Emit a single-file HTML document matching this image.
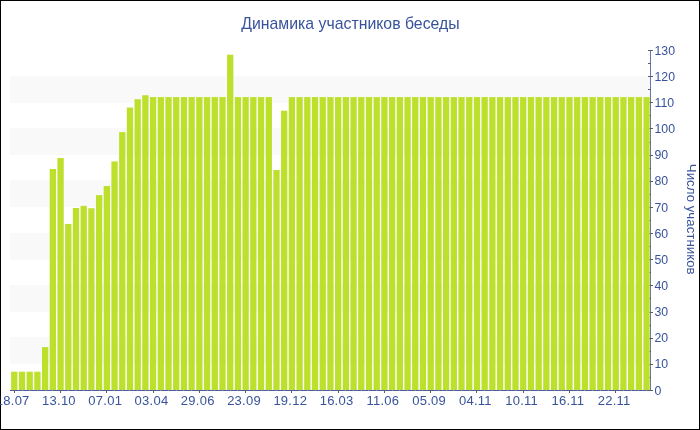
<!DOCTYPE html><html><head><meta charset="utf-8"><style>html,body{margin:0;padding:0;background:#fff;width:700px;height:430px;overflow:hidden}svg{display:block;will-change:transform}text{font-family:"Liberation Sans",sans-serif}</style></head><body>
<svg width="700" height="430" viewBox="0 0 700 430">
<rect x="0.5" y="0.5" width="699" height="429" fill="#fff" stroke="#000" stroke-width="1"/>
<g fill="#f9f9f9"><rect x="10" y="337" width="640" height="27"/><rect x="10" y="285" width="640" height="27"/><rect x="10" y="233" width="640" height="27"/><rect x="10" y="180" width="640" height="27"/><rect x="10" y="128" width="640" height="27"/><rect x="10" y="76" width="640" height="27"/></g>
<line x1="10" y1="390.5" x2="651" y2="390.5" stroke="#4a5ea4" stroke-width="1"/>
<line x1="650.5" y1="50" x2="650.5" y2="391" stroke="#6676b2" stroke-width="1"/>
<g stroke="#5e5e5e" stroke-width="1"><line x1="648" y1="390.5" x2="653" y2="390.5"/><line x1="648" y1="377.5" x2="651" y2="377.5"/><line x1="648" y1="364.5" x2="653" y2="364.5"/><line x1="648" y1="351.5" x2="651" y2="351.5"/><line x1="648" y1="338.5" x2="653" y2="338.5"/><line x1="648" y1="325.5" x2="651" y2="325.5"/><line x1="648" y1="312.5" x2="653" y2="312.5"/><line x1="648" y1="298.5" x2="651" y2="298.5"/><line x1="648" y1="285.5" x2="653" y2="285.5"/><line x1="648" y1="272.5" x2="651" y2="272.5"/><line x1="648" y1="259.5" x2="653" y2="259.5"/><line x1="648" y1="246.5" x2="651" y2="246.5"/><line x1="648" y1="233.5" x2="653" y2="233.5"/><line x1="648" y1="220.5" x2="651" y2="220.5"/><line x1="648" y1="207.5" x2="653" y2="207.5"/><line x1="648" y1="194.5" x2="651" y2="194.5"/><line x1="648" y1="181.5" x2="653" y2="181.5"/><line x1="648" y1="168.5" x2="651" y2="168.5"/><line x1="648" y1="155.5" x2="653" y2="155.5"/><line x1="648" y1="142.5" x2="651" y2="142.5"/><line x1="648" y1="128.5" x2="653" y2="128.5"/><line x1="648" y1="115.5" x2="651" y2="115.5"/><line x1="648" y1="102.5" x2="653" y2="102.5"/><line x1="648" y1="89.5" x2="651" y2="89.5"/><line x1="648" y1="76.5" x2="653" y2="76.5"/><line x1="648" y1="63.5" x2="651" y2="63.5"/><line x1="648" y1="50.5" x2="653" y2="50.5"/><line x1="14.5" y1="390" x2="14.5" y2="393"/><line x1="60.5" y1="390" x2="60.5" y2="393"/><line x1="106.5" y1="390" x2="106.5" y2="393"/><line x1="153.5" y1="390" x2="153.5" y2="393"/><line x1="199.5" y1="390" x2="199.5" y2="393"/><line x1="245.5" y1="390" x2="245.5" y2="393"/><line x1="291.5" y1="390" x2="291.5" y2="393"/><line x1="338.5" y1="390" x2="338.5" y2="393"/><line x1="384.5" y1="390" x2="384.5" y2="393"/><line x1="430.5" y1="390" x2="430.5" y2="393"/><line x1="476.5" y1="390" x2="476.5" y2="393"/><line x1="523.5" y1="390" x2="523.5" y2="393"/><line x1="569.5" y1="390" x2="569.5" y2="393"/><line x1="615.5" y1="390" x2="615.5" y2="393"/></g>
<g fill="#8790bd"><rect x="22" y="390" width="1" height="1"/><rect x="29" y="390" width="1" height="1"/><rect x="37" y="390" width="1" height="1"/><rect x="45" y="390" width="1" height="1"/><rect x="52" y="390" width="1" height="1"/><rect x="68" y="390" width="1" height="1"/><rect x="75" y="390" width="1" height="1"/><rect x="83" y="390" width="1" height="1"/><rect x="91" y="390" width="1" height="1"/><rect x="99" y="390" width="1" height="1"/><rect x="114" y="390" width="1" height="1"/><rect x="122" y="390" width="1" height="1"/><rect x="129" y="390" width="1" height="1"/><rect x="137" y="390" width="1" height="1"/><rect x="145" y="390" width="1" height="1"/><rect x="160" y="390" width="1" height="1"/><rect x="168" y="390" width="1" height="1"/><rect x="176" y="390" width="1" height="1"/><rect x="183" y="390" width="1" height="1"/><rect x="191" y="390" width="1" height="1"/><rect x="207" y="390" width="1" height="1"/><rect x="214" y="390" width="1" height="1"/><rect x="222" y="390" width="1" height="1"/><rect x="230" y="390" width="1" height="1"/><rect x="237" y="390" width="1" height="1"/><rect x="253" y="390" width="1" height="1"/><rect x="261" y="390" width="1" height="1"/><rect x="268" y="390" width="1" height="1"/><rect x="276" y="390" width="1" height="1"/><rect x="284" y="390" width="1" height="1"/><rect x="299" y="390" width="1" height="1"/><rect x="307" y="390" width="1" height="1"/><rect x="315" y="390" width="1" height="1"/><rect x="322" y="390" width="1" height="1"/><rect x="330" y="390" width="1" height="1"/><rect x="345" y="390" width="1" height="1"/><rect x="353" y="390" width="1" height="1"/><rect x="361" y="390" width="1" height="1"/><rect x="368" y="390" width="1" height="1"/><rect x="376" y="390" width="1" height="1"/><rect x="392" y="390" width="1" height="1"/><rect x="399" y="390" width="1" height="1"/><rect x="407" y="390" width="1" height="1"/><rect x="415" y="390" width="1" height="1"/><rect x="422" y="390" width="1" height="1"/><rect x="438" y="390" width="1" height="1"/><rect x="446" y="390" width="1" height="1"/><rect x="453" y="390" width="1" height="1"/><rect x="461" y="390" width="1" height="1"/><rect x="469" y="390" width="1" height="1"/><rect x="484" y="390" width="1" height="1"/><rect x="492" y="390" width="1" height="1"/><rect x="500" y="390" width="1" height="1"/><rect x="507" y="390" width="1" height="1"/><rect x="515" y="390" width="1" height="1"/><rect x="530" y="390" width="1" height="1"/><rect x="538" y="390" width="1" height="1"/><rect x="546" y="390" width="1" height="1"/><rect x="554" y="390" width="1" height="1"/><rect x="561" y="390" width="1" height="1"/><rect x="577" y="390" width="1" height="1"/><rect x="584" y="390" width="1" height="1"/><rect x="592" y="390" width="1" height="1"/><rect x="600" y="390" width="1" height="1"/><rect x="608" y="390" width="1" height="1"/><rect x="623" y="390" width="1" height="1"/><rect x="631" y="390" width="1" height="1"/><rect x="638" y="390" width="1" height="1"/><rect x="646" y="390" width="1" height="1"/></g>
<g fill="#bce02c"><rect x="11.15" y="371.69" width="6.3" height="18.31"/><rect x="18.86" y="371.69" width="6.3" height="18.31"/><rect x="26.57" y="371.69" width="6.3" height="18.31"/><rect x="34.28" y="371.69" width="6.3" height="18.31"/><rect x="41.99" y="347.11" width="6.3" height="42.89"/><rect x="49.70" y="169.00" width="6.3" height="221.00"/><rect x="57.42" y="158.02" width="6.3" height="231.98"/><rect x="65.13" y="223.92" width="6.3" height="166.08"/><rect x="72.84" y="207.97" width="6.3" height="182.03"/><rect x="80.55" y="205.88" width="6.3" height="184.12"/><rect x="88.26" y="208.23" width="6.3" height="181.77"/><rect x="95.97" y="195.15" width="6.3" height="194.85"/><rect x="103.68" y="186.00" width="6.3" height="204.00"/><rect x="111.39" y="161.42" width="6.3" height="228.58"/><rect x="119.10" y="132.12" width="6.3" height="257.88"/><rect x="126.81" y="107.54" width="6.3" height="282.46"/><rect x="134.52" y="99.17" width="6.3" height="290.83"/><rect x="142.23" y="95.25" width="6.3" height="294.75"/><rect x="149.95" y="97.08" width="6.3" height="292.92"/><rect x="157.66" y="97.08" width="6.3" height="292.92"/><rect x="165.37" y="97.08" width="6.3" height="292.92"/><rect x="173.08" y="97.08" width="6.3" height="292.92"/><rect x="180.79" y="97.08" width="6.3" height="292.92"/><rect x="188.50" y="97.08" width="6.3" height="292.92"/><rect x="196.21" y="97.08" width="6.3" height="292.92"/><rect x="203.92" y="97.08" width="6.3" height="292.92"/><rect x="211.63" y="97.08" width="6.3" height="292.92"/><rect x="219.34" y="97.08" width="6.3" height="292.92"/><rect x="227.05" y="54.71" width="6.3" height="335.29"/><rect x="234.76" y="97.08" width="6.3" height="292.92"/><rect x="242.48" y="97.08" width="6.3" height="292.92"/><rect x="250.19" y="97.08" width="6.3" height="292.92"/><rect x="257.90" y="97.08" width="6.3" height="292.92"/><rect x="265.61" y="97.08" width="6.3" height="292.92"/><rect x="273.32" y="170.05" width="6.3" height="219.95"/><rect x="281.03" y="110.68" width="6.3" height="279.32"/><rect x="288.74" y="97.08" width="6.3" height="292.92"/><rect x="296.45" y="97.08" width="6.3" height="292.92"/><rect x="304.16" y="97.08" width="6.3" height="292.92"/><rect x="311.87" y="97.08" width="6.3" height="292.92"/><rect x="319.58" y="97.08" width="6.3" height="292.92"/><rect x="327.29" y="97.08" width="6.3" height="292.92"/><rect x="335.01" y="97.08" width="6.3" height="292.92"/><rect x="342.72" y="97.08" width="6.3" height="292.92"/><rect x="350.43" y="97.08" width="6.3" height="292.92"/><rect x="358.14" y="97.08" width="6.3" height="292.92"/><rect x="365.85" y="97.08" width="6.3" height="292.92"/><rect x="373.56" y="97.08" width="6.3" height="292.92"/><rect x="381.27" y="97.08" width="6.3" height="292.92"/><rect x="388.98" y="97.08" width="6.3" height="292.92"/><rect x="396.69" y="97.08" width="6.3" height="292.92"/><rect x="404.40" y="97.08" width="6.3" height="292.92"/><rect x="412.11" y="97.08" width="6.3" height="292.92"/><rect x="419.82" y="97.08" width="6.3" height="292.92"/><rect x="427.54" y="97.08" width="6.3" height="292.92"/><rect x="435.25" y="97.08" width="6.3" height="292.92"/><rect x="442.96" y="97.08" width="6.3" height="292.92"/><rect x="450.67" y="97.08" width="6.3" height="292.92"/><rect x="458.38" y="97.08" width="6.3" height="292.92"/><rect x="466.09" y="97.08" width="6.3" height="292.92"/><rect x="473.80" y="97.08" width="6.3" height="292.92"/><rect x="481.51" y="97.08" width="6.3" height="292.92"/><rect x="489.22" y="97.08" width="6.3" height="292.92"/><rect x="496.93" y="97.08" width="6.3" height="292.92"/><rect x="504.64" y="97.08" width="6.3" height="292.92"/><rect x="512.35" y="97.08" width="6.3" height="292.92"/><rect x="520.07" y="97.08" width="6.3" height="292.92"/><rect x="527.78" y="97.08" width="6.3" height="292.92"/><rect x="535.49" y="97.08" width="6.3" height="292.92"/><rect x="543.20" y="97.08" width="6.3" height="292.92"/><rect x="550.91" y="97.08" width="6.3" height="292.92"/><rect x="558.62" y="97.08" width="6.3" height="292.92"/><rect x="566.33" y="97.08" width="6.3" height="292.92"/><rect x="574.04" y="97.08" width="6.3" height="292.92"/><rect x="581.75" y="97.08" width="6.3" height="292.92"/><rect x="589.46" y="97.08" width="6.3" height="292.92"/><rect x="597.17" y="97.08" width="6.3" height="292.92"/><rect x="604.88" y="97.08" width="6.3" height="292.92"/><rect x="612.60" y="97.08" width="6.3" height="292.92"/><rect x="620.31" y="97.08" width="6.3" height="292.92"/><rect x="628.02" y="97.08" width="6.3" height="292.92"/><rect x="635.73" y="97.08" width="6.3" height="292.92"/><rect x="643.44" y="97.08" width="6.3" height="292.92"/></g>
<g fill="#38539c" font-size="13"><text transform="translate(654.5,394.60) scale(0.95,1)">0</text><text transform="translate(654.5,368.45) scale(0.95,1)">10</text><text transform="translate(654.5,342.29) scale(0.95,1)">20</text><text transform="translate(654.5,316.14) scale(0.95,1)">30</text><text transform="translate(654.5,289.98) scale(0.95,1)">40</text><text transform="translate(654.5,263.83) scale(0.95,1)">50</text><text transform="translate(654.5,237.68) scale(0.95,1)">60</text><text transform="translate(654.5,211.52) scale(0.95,1)">70</text><text transform="translate(654.5,185.37) scale(0.95,1)">80</text><text transform="translate(654.5,159.22) scale(0.95,1)">90</text><text transform="translate(654.5,133.06) scale(0.95,1)">100</text><text transform="translate(654.5,106.91) scale(0.95,1)">110</text><text transform="translate(654.5,80.75) scale(0.95,1)">120</text><text transform="translate(654.5,54.60) scale(0.95,1)">130</text><text x="12.70" y="405" text-anchor="middle" letter-spacing="0.25">18.07</text><text x="58.97" y="405" text-anchor="middle" letter-spacing="0.25">13.10</text><text x="105.23" y="405" text-anchor="middle" letter-spacing="0.25">07.01</text><text x="151.50" y="405" text-anchor="middle" letter-spacing="0.25">03.04</text><text x="197.76" y="405" text-anchor="middle" letter-spacing="0.25">29.06</text><text x="244.03" y="405" text-anchor="middle" letter-spacing="0.25">23.09</text><text x="290.29" y="405" text-anchor="middle" letter-spacing="0.25">19.12</text><text x="336.56" y="405" text-anchor="middle" letter-spacing="0.25">16.03</text><text x="382.82" y="405" text-anchor="middle" letter-spacing="0.25">11.06</text><text x="429.09" y="405" text-anchor="middle" letter-spacing="0.25">05.09</text><text x="475.35" y="405" text-anchor="middle" letter-spacing="0.25">04.11</text><text x="521.62" y="405" text-anchor="middle" letter-spacing="0.25">10.11</text><text x="567.88" y="405" text-anchor="middle" letter-spacing="0.25">16.11</text><text x="614.15" y="405" text-anchor="middle" letter-spacing="0.25">22.11</text></g>
<text transform="translate(350.4,28.9) scale(0.991,1)" text-anchor="middle" font-size="16" fill="#38539c">Динамика участников беседы</text>
<text transform="translate(687,219.2) rotate(90) scale(1.024,1)" text-anchor="middle" font-size="13" fill="#38539c">Число участников</text>
</svg></body></html>
